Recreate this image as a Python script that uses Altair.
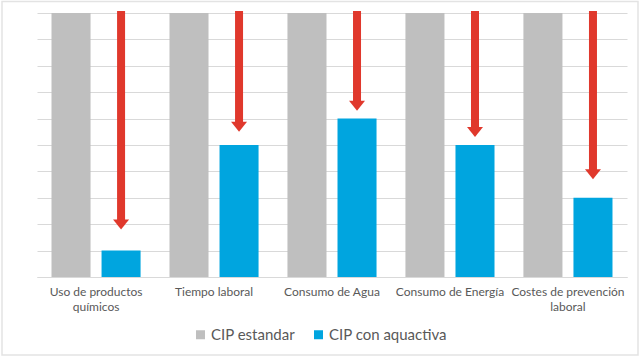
import altair as alt
import pandas as pd

categories = ["Uso de productos químicos", "Tiempo laboral", "Consumo de Agua",
              "Consumo de Energía", "Costes de prevención laboral"]
cat_labels = [["Uso de productos", "químicos"], ["Tiempo laboral"], ["Consumo de Agua"],
              ["Consumo de Energía"], ["Costes de prevención", "laboral"]]
series = ["CIP estandar", "CIP con aquactiva"]
standard_values = [10, 10, 10, 10, 10]
aquactiva_values = [1, 5, 6, 5, 3]
arrow_start = [10.08, 10.08, 10.08, 10.08, 10.08]
arrow_end = [1.8, 5.5, 6.3, 5.3, 3.7]

colors = ["#bfbfbf", "#00a5df"]
red = "#e0382c"

rows = []
for c, s, a in zip(categories, standard_values, aquactiva_values):
    rows.append({"cat": c, "serie": series[0], "v": s})
    rows.append({"cat": c, "serie": series[1], "v": a})
df = pd.DataFrame(rows)

arr = pd.DataFrame({"cat": categories, "serie": series[1],
                    "y0": arrow_start, "y1": arrow_end})

label_expr = ("{" + ",".join(
    f"'{c}': [{','.join(repr(p) for p in lab)}]" for c, lab in zip(categories, cat_labels)
) + "}[datum.value]")

xscale = alt.Scale(domain=categories, paddingInner=0.245, paddingOuter=0.123)
xoff = alt.Scale(domain=series, paddingInner=0.22, paddingOuter=0)
yscale = alt.Scale(domain=[0, 10], nice=False, clamp=False)

x_enc = alt.X("cat:N", scale=xscale, sort=categories, title=None,
              axis=alt.Axis(labelAngle=0, labelExpr=label_expr, domain=True,
                            domainColor="#d9d9d9", ticks=False, labelPadding=9,
                            labelFont="Lato", labelFontSize=12, labelColor="#595959",
                            labelLineHeight=15))

bars = alt.Chart(df).mark_bar().encode(
    x=x_enc,
    xOffset=alt.XOffset("serie:N", scale=xoff, sort=series),
    y=alt.Y("v:Q", scale=yscale, title=None,
            axis=alt.Axis(labels=False, ticks=False, domain=False, tickCount=10,
                          gridColor="#d9d9d9", gridWidth=1)),
    color=alt.Color("serie:N", scale=alt.Scale(domain=series, range=colors),
                    sort=series,
                    legend=alt.Legend(title=None, orient="none", direction="horizontal",
                                      legendX=156, legendY=314, symbolType="square",
                                      symbolSize=81, labelFont="Lato", labelFontSize=15,
                                      labelColor="#595959", columnPadding=16,
                                      symbolOpacity=1, labelOffset=3)),
)

shaft = alt.Chart(arr).mark_rule(color=red, strokeWidth=8, y2Offset=-9, strokeCap="butt").encode(
    x=alt.X("cat:N", scale=xscale, sort=categories),
    xOffset=alt.XOffset("serie:N", scale=xoff, sort=series),
    y=alt.Y("y0:Q", scale=yscale),
    y2="y1:Q",
)

head = alt.Chart(arr).mark_point(
    shape="M-1,-1.25 L1,-1.25 L0,0 Z", filled=True, color=red, opacity=1, size=256
).encode(
    x=alt.X("cat:N", scale=xscale, sort=categories),
    xOffset=alt.XOffset("serie:N", scale=xoff, sort=series),
    y=alt.Y("y1:Q", scale=yscale),
)

border = alt.Chart(pd.DataFrame({"k": [0]})).mark_rect(
    fill=None, stroke="#e3e3e3", strokeWidth=1.5
).encode(
    x=alt.value(-35), x2=alt.value(601), y=alt.value(-11.5), y2=alt.value(342),
)

chart = alt.layer(bars, shaft, head, border).properties(
    width=590, height=264,
    padding={"left": 37, "top": 13, "right": 13, "bottom": 80},
    autosize=alt.AutoSizeParams(type="none"),
    background="white",
).configure_view(stroke=None)

chart.save("out.html", embed_options={"renderer": "svg", "actions": False})
